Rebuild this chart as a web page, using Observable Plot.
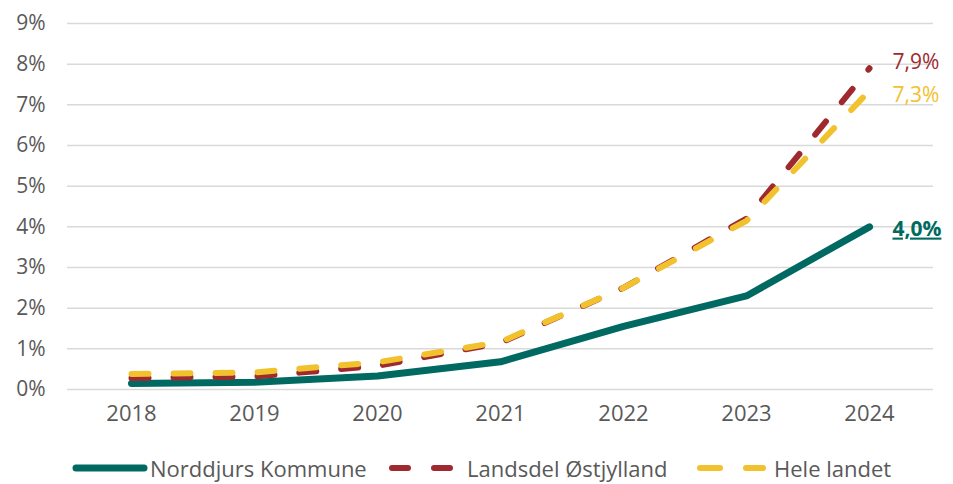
<!DOCTYPE html>
<html><head><meta charset="utf-8">
<script src="https://cdn.jsdelivr.net/npm/d3@7"></script>
<script src="https://cdn.jsdelivr.net/npm/@observablehq/plot@0.6"></script>
<style>
body{margin:0;background:#fff;font-family:"Open Sans",sans-serif;}
#wrap{position:relative;width:953px;height:484px;}
#legend{position:absolute;left:0;top:430px;width:953px;height:54px;}
#legend span{position:absolute;top:24px;font-size:22px;color:#595959;line-height:28px;}
#legend svg{position:absolute;top:0;left:0;}
</style></head>
<body><div id="wrap"><div id="chart"></div><div id="legend"></div></div>
<script>
const years = [2018, 2019, 2020, 2021, 2022, 2023, 2024];
const norddjurs = [0.15, 0.18, 0.33, 0.68, 1.55, 2.3, 4.0];
const landsdel = [0.28, 0.32, 0.58, 1.15, 2.5, 4.2, 7.9];
const hele = [0.33, 0.37, 0.62, 1.12, 2.45, 4.1, 7.3];
const seriesNames = ["Norddjurs Kommune", "Landsdel Østjylland", "Hele landet"];
const colors = ["#006A62", "#9E2A2F", "#F2C12E"];
const yTicks = [0,1,2,3,4,5,6,7,8,9];

const mk = (vals, name) => years.map((y,i)=>({year:String(y), value:vals[i], series:name}));
const dN = mk(norddjurs, seriesNames[0]);
const dL = mk(landsdel, seriesNames[1]);
const dH = mk(hele, seriesNames[2]);
const fmt = v => v.toFixed(1).replace(".", ",") + "%";

const chart = Plot.plot({
  width: 953, height: 430,
  marginLeft: 67, marginRight: 20, marginTop: 23, marginBottom: 41,
  style: {fontFamily: '"Open Sans", sans-serif', fontSize: "21px", color: "#595959", background: "#fff"},
  x: {type: "point", domain: years.map(String), padding: 0.5, label: null},
  y: {domain: [0, 9], ticks: yTicks, label: null},
  marks: [
    Plot.gridY(yTicks, {stroke: "#d9d9d9", strokeOpacity: 1, strokeWidth: 1.5}),
    Plot.axisY(yTicks, {tickSize: 0, tickPadding: 22, tickFormat: d => d + "%", fill: "#595959", fontSize: 21}),
    Plot.axisX({tickSize: 0, tickPadding: 16, fill: "#595959", fontSize: 22}),
    Plot.line(dN, {x: "year", y: "value", stroke: colors[0], strokeWidth: 7, strokeLinecap: "round", strokeLinejoin: "round"}),
    Plot.line(dL, {x: "year", y: "value", stroke: colors[1], strokeWidth: 6, strokeLinecap: "round", strokeDasharray: "17,25"}),
    Plot.line(dH, {x: "year", y: "value", stroke: colors[2], strokeWidth: 6, strokeLinecap: "round", strokeDasharray: "17,25", dy: -2}),
    Plot.text(dL.slice(-1), {x: "year", y: "value", text: d => fmt(d.value), fill: colors[1], dx: 23, dy: -6, textAnchor: "start", fontSize: 21}),
    Plot.text(dH.slice(-1), {x: "year", y: "value", text: d => fmt(d.value), fill: colors[2], dx: 23, dy: 3, textAnchor: "start", fontSize: 21}),
    Plot.text(dN.slice(-1), {x: "year", y: "value", text: d => fmt(d.value), fill: colors[0], dx: 23, dy: 2, textAnchor: "start", fontSize: 21, fontWeight: "bold", className: "lbl-n"})
  ]
});
document.getElementById("chart").appendChild(chart);
chart.querySelectorAll(".lbl-n text, text.lbl-n").forEach(t => t.style.textDecoration = "underline");
chart.querySelectorAll("g.lbl-n").forEach(g => g.querySelectorAll("text").forEach(t => t.setAttribute("text-decoration", "underline")));

// legend
const leg = document.getElementById("legend");
const ns = "http://www.w3.org/2000/svg";
const svg = document.createElementNS(ns, "svg");
svg.setAttribute("width", 953); svg.setAttribute("height", 54);
const samples = [
  {x1: 76, x2: 144, dash: null, w: 7},
  {x1: 392, x2: 453, dash: "16,26", w: 6},
  {x1: 700, x2: 763, dash: "20,26", w: 6}
];
samples.forEach((s,i)=>{
  const l = document.createElementNS(ns, "line");
  l.setAttribute("x1", s.x1); l.setAttribute("x2", s.x2);
  l.setAttribute("y1", 38); l.setAttribute("y2", 38);
  l.setAttribute("stroke", colors[i]); l.setAttribute("stroke-width", s.w);
  l.setAttribute("stroke-linecap", "round");
  if (s.dash) l.setAttribute("stroke-dasharray", s.dash);
  svg.appendChild(l);
});
leg.appendChild(svg);
const textX = [150, 467, 774];
seriesNames.forEach((n,i)=>{
  const sp = document.createElement("span");
  sp.textContent = n; sp.style.left = textX[i] + "px";
  leg.appendChild(sp);
});
</script></body></html>
